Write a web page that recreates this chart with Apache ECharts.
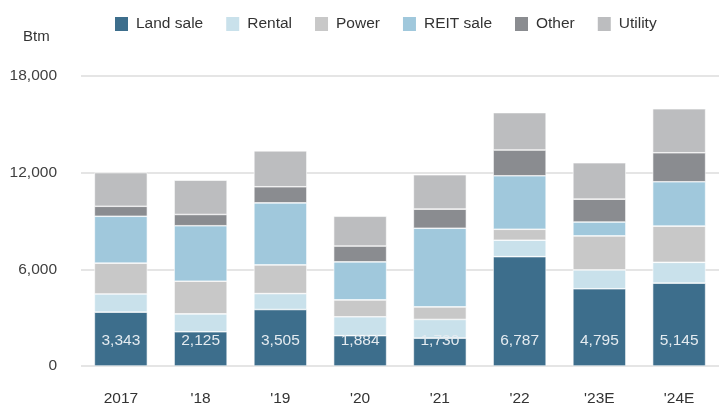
<!DOCTYPE html>
<html>
<head>
<meta charset="utf-8">
<script src="https://cdn.jsdelivr.net/npm/echarts@6/dist/echarts.min.js"></script>
<style>
    html, body { margin: 0; padding: 0; background: #fff; }
    #chart { width: 719px; height: 407px; }
</style>
</head>
<body>
<div id="chart"></div>
<script>
const years = ['2017', "'18", "'19", "'20", "'21", "'22", "'23E", "'24E"]
const landSale = [3343, 2125, 3505, 1884, 1730, 6787, 4795, 5145]
const rental = [1130, 1110, 990, 1170, 1160, 1020, 1170, 1290]
const power = [1910, 2030, 1780, 1050, 780, 680, 2110, 2250]
const reitSale = [2910, 3440, 3850, 2360, 4880, 3320, 860, 2750]
const other = [620, 700, 1000, 980, 1190, 1600, 1420, 1800]
const utility = [2090, 2130, 2230, 1850, 2130, 2320, 2260, 2730]
const yTicks = [0, 6000, 12000, 18000]

const chart = echarts.init(document.getElementById('chart'))

const segment = (name, data, color, extra) => Object.assign({
    name: name,
    type: 'bar',
    stack: 'total',
    data: data,
    barWidth: 53,
    itemStyle: { color: color, borderColor: '#ffffff', borderWidth: 0.6 },
}, extra || {})

chart.setOption({
    animation: false,
    textStyle: { fontFamily: '"Liberation Sans", Arial, sans-serif' },
    grid: { left: 81, right: -2, top: 76, bottom: 40 },
    legend: {
        left: 108,
        top: 10,
        itemWidth: 15,
        itemHeight: 16,
        itemGap: 21,
        icon: 'rect',
        textStyle: {
            fontSize: 15.5,
            color: '#333',
            padding: [0, 0, 0, 2],
        },
    },
    graphic: [{
        type: 'text',
        x: 23,
        y: 37,
        style: { text: 'Btm', fontSize: 15, fill: '#333', textVerticalAlign: 'middle', fontFamily: '"Liberation Sans", Arial, sans-serif' },
    }],
    xAxis: {
        type: 'category',
        data: years,
        axisLine: { show: false },
        axisTick: { show: false },
        axisLabel: { margin: 25, fontSize: 15.5, color: '#333' },
    },
    yAxis: {
        type: 'value',
        min: yTicks[0],
        max: yTicks[yTicks.length - 1],
        interval: 6000,
        axisLabel: {
            margin: 24,
            fontSize: 15.5,
            color: '#404040',
            formatter: v => v.toLocaleString('en-US'),
        },
        splitLine: { lineStyle: { color: '#dcdcdc', width: 1.5 } },
    },
    series: [
        segment('Land sale', landSale, '#3d6e8c', {
            label: {
                show: true,
                position: 'insideBottom',
                distance: 17,
                fontSize: 15.5,
                color: '#e4ebf0',
                formatter: p => p.value.toLocaleString('en-US'),
            },
        }),
        segment('Rental', rental, '#c9e1eb'),
        segment('Power', power, '#c8c8c8'),
        segment('REIT sale', reitSale, '#a0c8dc'),
        segment('Other', other, '#8a8c90'),
        segment('Utility', utility, '#bcbdbf'),
    ],
})
</script>
</body>
</html>
